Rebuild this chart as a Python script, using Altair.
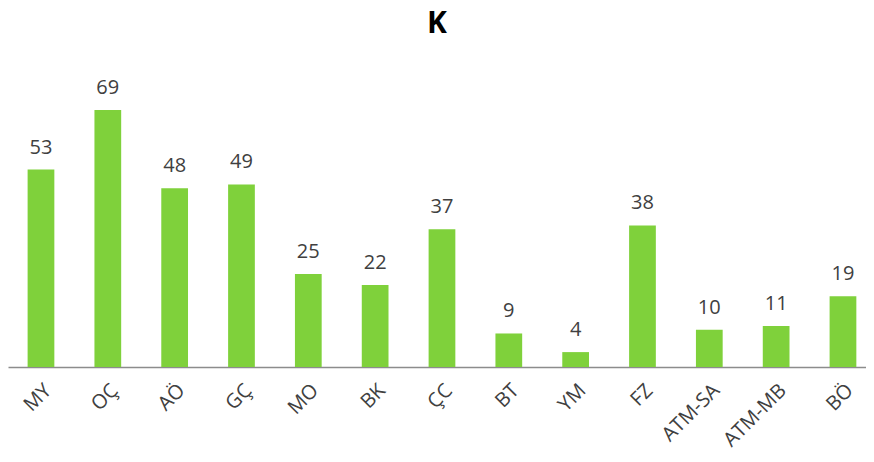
import altair as alt
import pandas as pd

categories = ["MY", "OÇ", "AÖ", "GÇ", "MO", "BK", "ÇC", "BT", "YM", "FZ", "ATM-SA", "ATM-MB", "BÖ"]
values = [53, 69, 48, 49, 25, 22, 37, 9, 4, 38, 10, 11, 19]

df = pd.DataFrame({"cat": categories, "val": values})

FONT = "Open Sans"

x = alt.X("cat:N", sort=categories, title=None,
          scale=alt.Scale(paddingInner=0.6, paddingOuter=0.219, align=0.67),
          axis=alt.Axis(labelAngle=-45, labelAlign="right", labelBaseline="top",
                        labelFontSize=20, labelColor="#404040", labelFont=FONT,
                        ticks=False, domainColor="#8c8c8c", domainWidth=1.5,
                        labelPadding=13, grid=False))
y = alt.Y("val:Q", title=None, scale=alt.Scale(domain=[0, 80], nice=False), axis=None)

bars = alt.Chart(df).mark_bar(color="#7FD13B").encode(x=x, y=y)
text = alt.Chart(df).mark_text(dy=-22, fontSize=20, font=FONT, color="#404040").encode(
    x=alt.X("cat:N", sort=categories), y="val:Q", text="val:Q")

chart = (bars + text).properties(
    width=858, height=298,
    title=alt.TitleParams("K", fontSize=30, font=FONT, fontWeight="bold", color="#000000",
                          anchor="middle", offset=30),
    autosize=alt.AutoSizeParams(type="none"),
    padding={"left": 0, "top": 61, "right": 0, "bottom": 84},
).configure_view(stroke=None)

chart.save("out.html", embed_options={"renderer": "svg", "actions": False})
